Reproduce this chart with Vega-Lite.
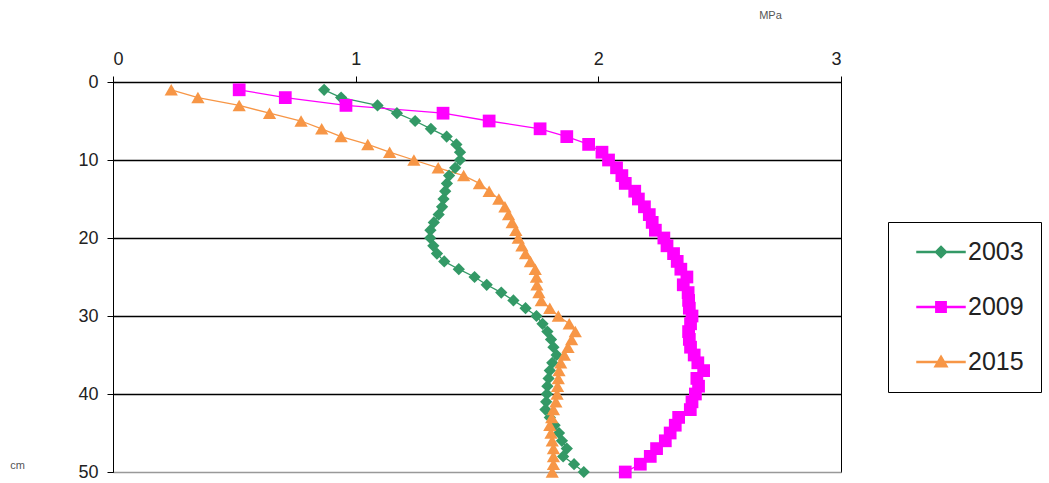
{
  "$schema": "https://vega.github.io/schema/vega-lite/v6.json",
  "autosize": {"type": "none"},
  "padding": {"left": 113, "top": 82, "right": 208, "bottom": 11},
  "width": 728,
  "height": 390,
  "background": "white",
  "config": {
    "font": "Liberation Sans",
    "view": {"stroke": "black", "strokeWidth": 1}
  },
  "data": {
    "values": [
      {"year": "2003", "depth": 1, "mpa": 0.87}, {"year": "2003", "depth": 2, "mpa": 0.94}, {"year": "2003", "depth": 3, "mpa": 1.09}, {"year": "2003", "depth": 4, "mpa": 1.17}, {"year": "2003", "depth": 5, "mpa": 1.245},
      {"year": "2003", "depth": 6, "mpa": 1.31}, {"year": "2003", "depth": 7, "mpa": 1.375}, {"year": "2003", "depth": 8, "mpa": 1.415}, {"year": "2003", "depth": 9, "mpa": 1.43}, {"year": "2003", "depth": 10, "mpa": 1.43},
      {"year": "2003", "depth": 11, "mpa": 1.41}, {"year": "2003", "depth": 12, "mpa": 1.385}, {"year": "2003", "depth": 13, "mpa": 1.376}, {"year": "2003", "depth": 14, "mpa": 1.369}, {"year": "2003", "depth": 15, "mpa": 1.362},
      {"year": "2003", "depth": 16, "mpa": 1.356}, {"year": "2003", "depth": 17, "mpa": 1.342}, {"year": "2003", "depth": 18, "mpa": 1.322}, {"year": "2003", "depth": 19, "mpa": 1.308}, {"year": "2003", "depth": 20, "mpa": 1.307},
      {"year": "2003", "depth": 21, "mpa": 1.32}, {"year": "2003", "depth": 22, "mpa": 1.335}, {"year": "2003", "depth": 23, "mpa": 1.365}, {"year": "2003", "depth": 24, "mpa": 1.425}, {"year": "2003", "depth": 25, "mpa": 1.49},
      {"year": "2003", "depth": 26, "mpa": 1.54}, {"year": "2003", "depth": 27, "mpa": 1.6}, {"year": "2003", "depth": 28, "mpa": 1.65}, {"year": "2003", "depth": 29, "mpa": 1.7}, {"year": "2003", "depth": 30, "mpa": 1.745},
      {"year": "2003", "depth": 31, "mpa": 1.77}, {"year": "2003", "depth": 32, "mpa": 1.79}, {"year": "2003", "depth": 33, "mpa": 1.805}, {"year": "2003", "depth": 34, "mpa": 1.815}, {"year": "2003", "depth": 35, "mpa": 1.828},
      {"year": "2003", "depth": 36, "mpa": 1.81}, {"year": "2003", "depth": 37, "mpa": 1.8}, {"year": "2003", "depth": 38, "mpa": 1.795}, {"year": "2003", "depth": 39, "mpa": 1.79}, {"year": "2003", "depth": 40, "mpa": 1.788},
      {"year": "2003", "depth": 41, "mpa": 1.785}, {"year": "2003", "depth": 42, "mpa": 1.782}, {"year": "2003", "depth": 43, "mpa": 1.8}, {"year": "2003", "depth": 44, "mpa": 1.82}, {"year": "2003", "depth": 45, "mpa": 1.838},
      {"year": "2003", "depth": 46, "mpa": 1.85}, {"year": "2003", "depth": 47, "mpa": 1.87}, {"year": "2003", "depth": 48, "mpa": 1.855}, {"year": "2003", "depth": 49, "mpa": 1.9}, {"year": "2003", "depth": 50, "mpa": 1.94},

      {"year": "2009", "depth": 1, "mpa": 0.52}, {"year": "2009", "depth": 2, "mpa": 0.71}, {"year": "2009", "depth": 3, "mpa": 0.96}, {"year": "2009", "depth": 4, "mpa": 1.36}, {"year": "2009", "depth": 5, "mpa": 1.55},
      {"year": "2009", "depth": 6, "mpa": 1.76}, {"year": "2009", "depth": 7, "mpa": 1.87}, {"year": "2009", "depth": 8, "mpa": 1.96}, {"year": "2009", "depth": 9, "mpa": 2.015}, {"year": "2009", "depth": 10, "mpa": 2.042},
      {"year": "2009", "depth": 11, "mpa": 2.075}, {"year": "2009", "depth": 12, "mpa": 2.097}, {"year": "2009", "depth": 13, "mpa": 2.111}, {"year": "2009", "depth": 14, "mpa": 2.15}, {"year": "2009", "depth": 15, "mpa": 2.165},
      {"year": "2009", "depth": 16, "mpa": 2.19}, {"year": "2009", "depth": 17, "mpa": 2.21}, {"year": "2009", "depth": 18, "mpa": 2.222}, {"year": "2009", "depth": 19, "mpa": 2.235}, {"year": "2009", "depth": 20, "mpa": 2.27},
      {"year": "2009", "depth": 21, "mpa": 2.283}, {"year": "2009", "depth": 22, "mpa": 2.31}, {"year": "2009", "depth": 23, "mpa": 2.325}, {"year": "2009", "depth": 24, "mpa": 2.34}, {"year": "2009", "depth": 25, "mpa": 2.365},
      {"year": "2009", "depth": 26, "mpa": 2.35}, {"year": "2009", "depth": 27, "mpa": 2.37}, {"year": "2009", "depth": 28, "mpa": 2.372}, {"year": "2009", "depth": 29, "mpa": 2.375}, {"year": "2009", "depth": 30, "mpa": 2.386},
      {"year": "2009", "depth": 31, "mpa": 2.38}, {"year": "2009", "depth": 32, "mpa": 2.372}, {"year": "2009", "depth": 33, "mpa": 2.375}, {"year": "2009", "depth": 34, "mpa": 2.38}, {"year": "2009", "depth": 35, "mpa": 2.395},
      {"year": "2009", "depth": 36, "mpa": 2.41}, {"year": "2009", "depth": 37, "mpa": 2.434}, {"year": "2009", "depth": 38, "mpa": 2.406}, {"year": "2009", "depth": 39, "mpa": 2.413}, {"year": "2009", "depth": 40, "mpa": 2.4},
      {"year": "2009", "depth": 41, "mpa": 2.386}, {"year": "2009", "depth": 42, "mpa": 2.379}, {"year": "2009", "depth": 43, "mpa": 2.331}, {"year": "2009", "depth": 44, "mpa": 2.317}, {"year": "2009", "depth": 45, "mpa": 2.296},
      {"year": "2009", "depth": 46, "mpa": 2.276}, {"year": "2009", "depth": 47, "mpa": 2.24}, {"year": "2009", "depth": 48, "mpa": 2.214}, {"year": "2009", "depth": 49, "mpa": 2.173}, {"year": "2009", "depth": 50, "mpa": 2.111},

      {"year": "2015", "depth": 1, "mpa": 0.24}, {"year": "2015", "depth": 2, "mpa": 0.35}, {"year": "2015", "depth": 3, "mpa": 0.52}, {"year": "2015", "depth": 4, "mpa": 0.645}, {"year": "2015", "depth": 5, "mpa": 0.775},
      {"year": "2015", "depth": 6, "mpa": 0.86}, {"year": "2015", "depth": 7, "mpa": 0.94}, {"year": "2015", "depth": 8, "mpa": 1.05}, {"year": "2015", "depth": 9, "mpa": 1.14}, {"year": "2015", "depth": 10, "mpa": 1.24},
      {"year": "2015", "depth": 11, "mpa": 1.34}, {"year": "2015", "depth": 12, "mpa": 1.445}, {"year": "2015", "depth": 13, "mpa": 1.51}, {"year": "2015", "depth": 14, "mpa": 1.55}, {"year": "2015", "depth": 15, "mpa": 1.59},
      {"year": "2015", "depth": 16, "mpa": 1.615}, {"year": "2015", "depth": 17, "mpa": 1.63}, {"year": "2015", "depth": 18, "mpa": 1.645}, {"year": "2015", "depth": 19, "mpa": 1.66}, {"year": "2015", "depth": 20, "mpa": 1.67},
      {"year": "2015", "depth": 21, "mpa": 1.685}, {"year": "2015", "depth": 22, "mpa": 1.7}, {"year": "2015", "depth": 23, "mpa": 1.72}, {"year": "2015", "depth": 24, "mpa": 1.74}, {"year": "2015", "depth": 25, "mpa": 1.745},
      {"year": "2015", "depth": 26, "mpa": 1.747}, {"year": "2015", "depth": 27, "mpa": 1.755}, {"year": "2015", "depth": 28, "mpa": 1.765}, {"year": "2015", "depth": 29, "mpa": 1.8}, {"year": "2015", "depth": 30, "mpa": 1.835},
      {"year": "2015", "depth": 31, "mpa": 1.88}, {"year": "2015", "depth": 32, "mpa": 1.905}, {"year": "2015", "depth": 33, "mpa": 1.89}, {"year": "2015", "depth": 34, "mpa": 1.875}, {"year": "2015", "depth": 35, "mpa": 1.86},
      {"year": "2015", "depth": 36, "mpa": 1.845}, {"year": "2015", "depth": 37, "mpa": 1.838}, {"year": "2015", "depth": 38, "mpa": 1.835}, {"year": "2015", "depth": 39, "mpa": 1.832}, {"year": "2015", "depth": 40, "mpa": 1.83},
      {"year": "2015", "depth": 41, "mpa": 1.825}, {"year": "2015", "depth": 42, "mpa": 1.815}, {"year": "2015", "depth": 43, "mpa": 1.808}, {"year": "2015", "depth": 44, "mpa": 1.8}, {"year": "2015", "depth": 45, "mpa": 1.805},
      {"year": "2015", "depth": 46, "mpa": 1.81}, {"year": "2015", "depth": 47, "mpa": 1.815}, {"year": "2015", "depth": 48, "mpa": 1.815}, {"year": "2015", "depth": 49, "mpa": 1.815}, {"year": "2015", "depth": 50, "mpa": 1.81}
    ]
  },
  "encoding": {
    "x": {
      "field": "mpa", "type": "quantitative",
      "scale": {"domain": [0, 3], "nice": false, "zero": false},
      "axis": {
        "orient": "top", "values": [0, 1, 2, 3], "grid": false,
        "title": "MPa", "titleX": 657, "titleY": -67, "titleAlign": "center", "titleBaseline": "middle",
        "titleFontSize": 11, "titleFontWeight": "normal", "titleColor": "#555", "titleFont": "Liberation Sans",
        "labelFont": "Liberation Sans", "labelFontSize": 18, "labelColor": "#222", "labelPadding": 8,
        "domainColor": "black", "domainWidth": 1, "tickColor": "black", "tickSize": 6, "tickWidth": 1
      }
    },
    "y": {
      "field": "depth", "type": "quantitative",
      "scale": {"domain": [0, 50], "nice": false, "reverse": true, "zero": false},
      "axis": {
        "orient": "left", "values": [0, 10, 20, 30, 40, 50], "grid": true,
        "gridColor": {"condition": {"test": "datum.value == 50", "value": "#999999"}, "value": "black"},
        "gridWidth": 1.3,
        "title": "cm", "titleAngle": 0, "titleX": -96, "titleY": 383, "titleAlign": "center", "titleBaseline": "middle",
        "titleFontSize": 11, "titleFontWeight": "normal", "titleColor": "#555", "titleFont": "Liberation Sans",
        "labelFont": "Liberation Sans", "labelFontSize": 18, "labelColor": "#222", "labelPadding": 9,
        "domainColor": "black", "domainWidth": 1, "tickColor": "black", "tickSize": 6, "tickWidth": 1
      }
    }
  },
  "resolve": {"scale": {"color": "independent"}, "legend": {"color": "independent"}},
  "layer": [
    {
      "mark": {"type": "line", "strokeWidth": 1.3},
      "encoding": {
        "order": {"field": "depth", "type": "quantitative"},
        "color": {
          "field": "year", "type": "nominal",
          "scale": {"domain": ["2003", "2009", "2015"], "range": ["#339966", "#FF00FF", "#F79646"]},
          "legend": {
            "orient": "none", "legendX": 775, "legendY": 140, "title": null,
            "padding": 17, "strokeColor": "black", "fillColor": "white",
            "symbolSize": 576, "symbolOffset": 23, "labelOffset": 14, "rowPadding": 29,
            "labelFont": "Liberation Sans", "labelFontSize": 25, "labelColor": "#222",
            "encode": {
              "symbols": {
                "update": {
                  "shape": {"signal": "datum.value == '2003' ? 'M-2,-0.05L2,-0.05L2,0.05L-2,0.05ZM0,-0.47L0.47,0L0,0.47L-0.47,0Z' : datum.value == '2009' ? 'M-2,-0.05L2,-0.05L2,0.05L-2,0.05ZM-0.43,-0.43L0.43,-0.43L0.43,0.43L-0.43,0.43Z' : 'M-2,-0.05L2,-0.05L2,0.05L-2,0.05ZM0,-0.5L0.52,0.4L-0.52,0.4Z'"},
                  "fill": {"signal": "datum.value == '2003' ? '#339966' : datum.value == '2009' ? '#FF00FF' : '#F79646'"},
                  "opacity": {"value": 1},
                  "fillOpacity": {"value": 1}
                }
              }
            }
          }
        }
      }
    },
    {
      "mark": {"type": "point", "filled": true, "opacity": 1},
      "encoding": {
        "color": {
          "field": "year", "type": "nominal",
          "scale": {"domain": ["2003", "2009", "2015"], "range": ["#339966", "#FF00FF", "#F79646"]},
          "legend": null
        },
        "shape": {
          "field": "year", "type": "nominal",
          "scale": {"domain": ["2003", "2009", "2015"], "range": ["diamond", "square", "triangle-up"]},
          "legend": null
        },
        "size": {
          "field": "year", "type": "nominal",
          "scale": {"domain": ["2003", "2009", "2015"], "range": [150, 175, 170]},
          "legend": null
        }
      }
    }
  ]
}
